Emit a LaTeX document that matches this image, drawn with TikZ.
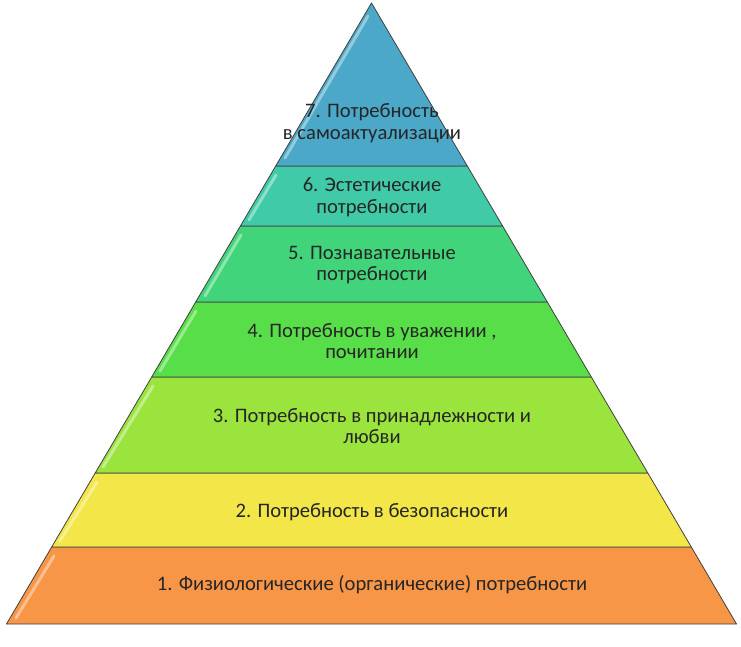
\documentclass[tikz,border=0pt]{standalone}
\usepackage{fontspec}
\setmainfont{Carlito}
\begin{document}
\begin{tikzpicture}[x=1pt,y=-1pt,
  layer/.style={draw=black!75,line width=0.8pt,line join=round},
  gloss/.style={draw=white,opacity=0.4,line width=3pt,line cap=round},
  lbl/.style={text=black!85,font=\fontsize{20.6}{21.5}\selectfont,align=center,inner sep=0pt}]
\definecolor{c7}{RGB}{75,168,200}
\definecolor{c6}{RGB}{64,202,168}
\definecolor{c5}{RGB}{66,212,122}
\definecolor{c4}{RGB}{88,222,72}
\definecolor{c3}{RGB}{155,228,62}
\definecolor{c2}{RGB}{243,230,72}
\definecolor{c1}{RGB}{248,150,72}
\useasboundingbox (0,0) rectangle (741,646);
% layers
\fill[c1,layer] (51.7,547) -- (691.3,547) -- (736.5,624) -- (6.5,624) -- cycle;
\fill[c2,layer] (95.2,473) -- (647.8,473) -- (691.3,547) -- (51.7,547) -- cycle;
\fill[c3,layer] (151.7,377) -- (591.3,377) -- (647.8,473) -- (95.2,473) -- cycle;
\fill[c4,layer] (195.7,302) -- (547.3,302) -- (591.3,377) -- (151.7,377) -- cycle;
\fill[c5,layer] (240.4,226) -- (502.6,226) -- (547.3,302) -- (195.7,302) -- cycle;
\fill[c6,layer] (275.7,166) -- (467.3,166) -- (502.6,226) -- (240.4,226) -- cycle;
\fill[c7,layer] (371.5,3) -- (467.3,166) -- (275.7,166) -- cycle;
% gloss highlights along the left edges
\draw[gloss] (54,556) -- (16,618);
\draw[gloss] (97,482) -- (60,541);
\draw[gloss] (153,386) -- (103,467);
\draw[gloss] (196,311) -- (160,371);
\draw[gloss] (241,235) -- (205,296);
\draw[gloss] (276,175) -- (249,220);
\draw[gloss] (368,16) -- (285,158);
% labels
\node[lbl] (t7) at (372,123) {7. Потребность\\в самоактуализации};
\node[lbl] (t6) at (372,197) {6. Эстетические\\потребности};
\node[lbl] (t5) at (372,265) {5. Познавательные\\потребности};
\node[lbl] (t4) at (372,341) {4. Потребность в уважении ,\\почитании};
\node[lbl] (t3) at (372,426) {3. Потребность в принадлежности и\\любви};
\node[lbl] (t2) at (372,512) {2. Потребность в безопасности};
\node[lbl] (t1) at (372,585) {1. Физиологические (органические) потребности};
\end{tikzpicture}
\end{document}
